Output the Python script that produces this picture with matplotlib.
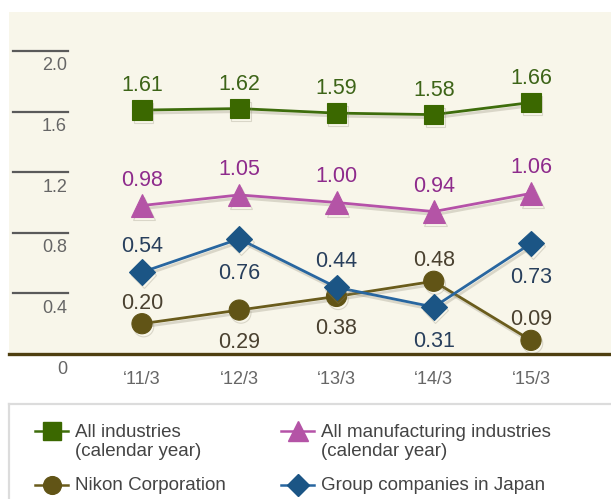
import matplotlib
matplotlib.use("Agg")
import matplotlib.pyplot as plt
import matplotlib.patheffects as pe
from matplotlib.transforms import blended_transform_factory, offset_copy
from matplotlib.lines import Line2D

# ---- data -------------------------------------------------------------
categories = ["\u201811/3", "\u201812/3", "\u201813/3", "\u201814/3", "\u201815/3"]
all_industries = [1.61, 1.62, 1.59, 1.58, 1.66]
all_manufacturing = [0.98, 1.05, 1.00, 0.94, 1.06]
nikon_corp = [0.20, 0.29, 0.38, 0.48, 0.09]
group_japan = [0.54, 0.76, 0.44, 0.31, 0.73]
y_ticks = [0.4, 0.8, 1.2, 1.6, 2.0]
y_tick_labels = ["0.4", "0.8", "1.2", "1.6", "2.0"]
series_names = [
    "All industries\n(calendar year)",
    "All manufacturing industries\n(calendar year)",
    "Nikon Corporation",
    "Group companies in Japan",
]

# label placement per point: +1 above the marker, -1 below
pos_all_ind = [1, 1, 1, 1, 1]
pos_all_mfg = [1, 1, 1, 1, 1]
pos_nikon = [1, -1, -1, 1, 1]
pos_group = [1, -1, 1, -1, -1]

FONT = ["Liberation Sans", "DejaVu Sans"]
plt.rcParams["font.family"] = FONT

W, H = 611, 499
fig = plt.figure(figsize=(W / 100, H / 100), dpi=100)
fig.patch.set_facecolor("white")

# plot area (pixel box: x 9..611, y 12..354)
ax = fig.add_axes([9 / W, 1 - 354 / H, 602 / W, 342 / H])
ax.set_facecolor("#f8f6ea")
for s in ax.spines.values():
    s.set_visible(False)

x = list(range(len(categories)))
px_per_cat = 97.25
ax.set_xlim((9 - 142) / px_per_cat, (611 - 142) / px_per_cat)
ax.set_ylim(0, 342 / 151.5)

shadow = [pe.SimpleLineShadow(offset=(1.2, -2.2), shadow_color="#8a8470", alpha=0.28), pe.Normal()]

styles = [
    dict(data=all_industries, pos=pos_all_ind, marker="s", ms=14,
         line="#3e6d0c", face="#3b6800", text="#3d6418", up=19, down=37),
    dict(data=all_manufacturing, pos=pos_all_mfg, marker="^", ms=16,
         line="#b552a8", face="#b454a6", text="#8e2b8c", up=20, down=37),
    dict(data=nikon_corp, pos=pos_nikon, marker="o", ms=14.5,
         line="#6a5c1c", face="#615416", text="#4a4130", up=15, down=38),
    dict(data=group_japan, pos=pos_group, marker="D", ms=13,
         line="#2866a0", face="#1b5585", text="#283f5c", up=20, down=40),
]

for st in styles:
    ax.plot(x, st["data"], color=st["line"], lw=2.0, zorder=3,
            marker=st["marker"], ms=st["ms"], mfc=st["face"], mec=st["face"],
            mew=0.8, path_effects=shadow, clip_on=False)
    for xi, v, p in zip(x, st["data"], st["pos"]):
        dy = st["up"] if p > 0 else -st["down"]
        ax.annotate(f"{v:.2f}", (xi, v), xytext=(0, dy * 0.72),
                    textcoords="offset points", ha="center", va="baseline",
                    fontsize=15.5, color=st["text"], zorder=5)

# baseline
ax.axhline(0, color="#4e3f10", lw=2.4, zorder=4, clip_on=False)

# y-axis: short rules with value labels below them
ax.set_yticks([])
tr = blended_transform_factory(ax.transAxes, ax.transData)
for v, lab in zip(y_ticks, y_tick_labels):
    ax.plot([4 / 602, 59 / 602], [v, v], color="#5a5a5a", lw=1.6,
            transform=tr, clip_on=False, zorder=2)
    ax.text(58 / 602, v, lab, transform=offset_copy(tr, fig=fig, x=0, y=-15, units="dots"),
            ha="right", va="center", fontsize=13, color="#666666")
ax.text(58 / 602, 0, "0", transform=offset_copy(tr, fig=fig, x=0, y=-15, units="dots"),
        ha="right", va="center", fontsize=13, color="#666666")

# x-axis labels
ax.set_xticks(x)
ax.set_xticklabels(categories, fontsize=13, color="#666666")
ax.tick_params(axis="x", length=0, pad=12)

# ---- legend box ------------------------------------------------------
lg = fig.add_axes([9 / W, 0, 602 / W, (499 - 404) / H])
lg.set_xlim(9, 611)
lg.set_ylim(499, 404)
lg.set_xticks([])
lg.set_yticks([])
lg.set_facecolor("white")
for k, s in lg.spines.items():
    s.set_color("#dcdcdc")
    s.set_linewidth(1.6)
    if k in ("right", "bottom"):
        s.set_visible(False)

entries = [
    (styles[0], 52, 431, series_names[0]),
    (styles[1], 298, 431, series_names[1]),
    (styles[2], 52, 485, series_names[2]),
    (styles[3], 298, 485, series_names[3]),
]
for st, cx, cy, name in entries:
    lg.add_line(Line2D([cx - 17, cx + 16], [cy, cy], color=st["line"], lw=1.8))
    lg.add_line(Line2D([cx], [cy], marker=st["marker"], ms=st["ms"] * 0.88,
                       mfc=st["face"], mec=st["face"], ls="none"))
    tx = cx + 23
    if "\n" in name:
        lg.text(tx, cy + 11, name, ha="left", va="center", fontsize=13.5,
                color="#444444", linespacing=1.12)
    else:
        lg.text(tx, cy, name, ha="left", va="center", fontsize=13.5, color="#444444")

fig.savefig("out.png", dpi=100)
